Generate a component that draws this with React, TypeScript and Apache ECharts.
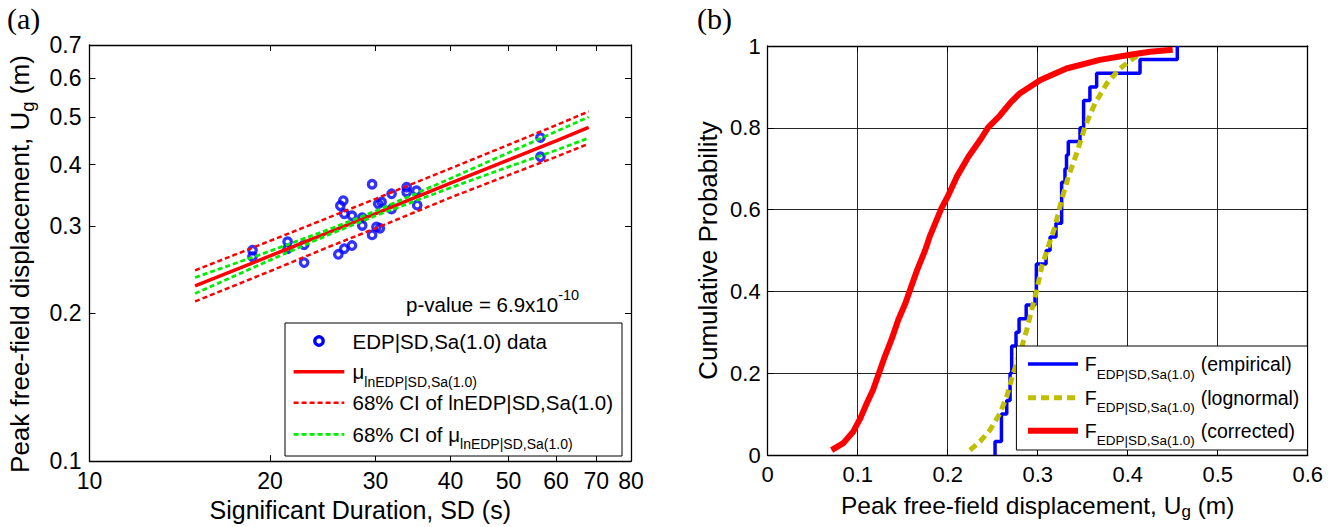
import React, { useEffect, useRef } from 'react';
import * as echarts from 'echarts';

// ---------- (a) regression plot ----------
const SD_TICKS = [10, 20, 30, 40, 50, 60, 70, 80];
const U_TICKS = [0.1, 0.2, 0.3, 0.4, 0.5, 0.6, 0.7];

const SD_DATA = [18.7, 18.7, 21.4, 21.4, 22.8, 22.8, 26.0, 26.6, 27.4, 26.2, 26.5, 26.6, 27.4, 28.5, 28.5, 29.6, 29.6, 30.1, 30.3, 30.7, 30.5, 31.9, 31.9, 33.8, 33.8, 35.1, 35.2, 56.5, 56.5];
const U_DATA = [0.268, 0.260, 0.279, 0.270, 0.275, 0.253, 0.263, 0.270, 0.274, 0.330, 0.338, 0.318, 0.315, 0.312, 0.301, 0.365, 0.288, 0.299, 0.333, 0.336, 0.297, 0.349, 0.325, 0.360, 0.352, 0.354, 0.331, 0.454, 0.415];

const FIT_SD = [15, 20, 25, 30, 40, 50, 60, 68];
const FIT_MU = [0.227, 0.261, 0.291, 0.318, 0.367, 0.409, 0.447, 0.476];
const CI_HI = [0.244, 0.280, 0.312, 0.341, 0.393, 0.439, 0.481, 0.513];
const CI_LO = [0.211, 0.243, 0.272, 0.297, 0.343, 0.381, 0.415, 0.441];
const CIM_HI = [0.236, 0.267, 0.295, 0.322, 0.375, 0.423, 0.467, 0.500];
const CIM_LO = [0.219, 0.256, 0.288, 0.315, 0.359, 0.396, 0.428, 0.453];

// ---------- (b) CDF plot ----------
const EMP_X = [0.2526, 0.2526, 0.2597, 0.2656, 0.2693, 0.2711, 0.2759, 0.2793, 0.2872, 0.2970, 0.2985, 0.3093, 0.3137, 0.3203, 0.3266, 0.3303, 0.3320, 0.3340, 0.3470, 0.3510, 0.3580, 0.3655, 0.4137, 0.4551];
const EMP_P = [0, 0.0333, 0.1, 0.1333, 0.2, 0.2667, 0.3, 0.3333, 0.3667, 0.4, 0.4667, 0.5, 0.5333, 0.5667, 0.6667, 0.7, 0.7333, 0.7667, 0.8, 0.8667, 0.9, 0.9333, 0.9667, 1.0];

const LOGN_X = [0.2248, 0.2359, 0.2470, 0.2581, 0.2656, 0.2729, 0.2803, 0.2878, 0.2933, 0.2989, 0.3044, 0.3118, 0.3192, 0.3266, 0.3340, 0.3433, 0.3526, 0.3637, 0.3767, 0.3914, 0.4063, 0.4108];
const LOGN_P = [0.012, 0.033, 0.061, 0.102, 0.143, 0.200, 0.249, 0.306, 0.355, 0.403, 0.460, 0.510, 0.558, 0.624, 0.680, 0.738, 0.803, 0.860, 0.908, 0.945, 0.970, 0.976];

const CORR_X = [0.071, 0.084, 0.095, 0.103, 0.110, 0.117, 0.123, 0.130, 0.138, 0.145, 0.153, 0.158, 0.166, 0.175, 0.180, 0.193, 0.200, 0.210, 0.223, 0.236, 0.245, 0.258, 0.270, 0.280, 0.303, 0.332, 0.369, 0.406, 0.425, 0.450];
const CORR_P = [0.012, 0.029, 0.057, 0.090, 0.126, 0.159, 0.196, 0.240, 0.285, 0.330, 0.371, 0.403, 0.452, 0.501, 0.534, 0.603, 0.632, 0.680, 0.729, 0.770, 0.801, 0.830, 0.862, 0.884, 0.917, 0.945, 0.966, 0.980, 0.986, 0.991];

const X2_TICK_LABELS = ['0', '0.1', '0.2', '0.3', '0.4', '0.5', '0.6'];
const Y2_TICK_LABELS = ['0', '0.2', '0.4', '0.6', '0.8', '1'];

const N_DATA = 'EDP|SD,Sa(1.0) data';
const N_MU = 'μ lnEDP|SD,Sa(1.0)';
const N_CI = '68% CI of lnEDP|SD,Sa(1.0)';
const N_CIM = '68% CI of μ lnEDP|SD,Sa(1.0)';
const N_EMP = 'F EDP|SD,Sa(1.0) (empirical)';
const N_LOGN = 'F EDP|SD,Sa(1.0) (lognormal)';
const N_CORR = 'F EDP|SD,Sa(1.0) (corrected)';

const LEGEND_FMT: Record<string, string> = {
  [N_DATA]: '{m|EDP|SD,Sa(1.0) data}',
  [N_MU]: '{m|μ}{s|lnEDP|SD,Sa(1.0)}',
  [N_CI]: '{m|68% CI of lnEDP|SD,Sa(1.0)}',
  [N_CIM]: '{m|68% CI of μ}{s|lnEDP|SD,Sa(1.0)}',
  [N_EMP]: '{m|F}{s|EDP|SD,Sa(1.0)}{p|(empirical)}',
  [N_LOGN]: '{m|F}{s|EDP|SD,Sa(1.0)}{p|(lognormal)}',
  [N_CORR]: '{m|F}{s|EDP|SD,Sa(1.0)}{p|(corrected)}',
};

const FONT = '"Liberation Sans", Arial, sans-serif';
const SERIF = '"Liberation Serif", "Times New Roman", serif';

const C_BLUE = '#0000ff';
const C_RED = '#ff0000';
const C_GREEN = '#00ee00';
const C_YEL = '#bfbf00';

const zip = (a: number[], b: number[]) => a.map((v, i) => [v, b[i]]);

function richStyle(fs: number, ss: number) {
  return {
    m: { fontSize: fs, lineHeight: 34, fontFamily: FONT, fill: '#000' },
    s: { fontSize: ss, lineHeight: 12, verticalAlign: 'bottom', fontFamily: FONT, fill: '#000' },
    p: { fontSize: fs, lineHeight: 34, fontFamily: FONT, fill: '#000', padding: [0, 0, 0, 6] },
  };
}

function legendEntry(name: string, x: number, y: number, fs: number, ss: number) {
  return {
    type: 'text', x, y, z: 101,
    style: { text: LEGEND_FMT[name], verticalAlign: 'middle', align: 'left', fill: '#000', fontFamily: FONT, fontSize: fs, rich: richStyle(fs, ss) },
  };
}

function legendLine(x1: number, x2: number, y: number, stroke: string, lineWidth: number, lineDash?: number[]) {
  return {
    type: 'line', z: 101,
    shape: { x1, y1: y, x2, y2: y },
    style: { stroke, lineWidth, lineDash: lineDash || null, fill: 'none' },
  };
}

function buildGraphics(): any[] {
  // legend (a)
  const ay = [341, 371.7, 402.7, 434.3];
  const ax1 = 293.6, ax2 = 344.3, atx = 352.5;
  // legend (b)
  const by = [364, 397.7, 430.7];
  const bx1 = 1028, bx2 = 1078, btx = 1084.8;
  return [
    { type: 'text', left: 7, top: 3, style: { text: '(a)', fontSize: 30, fontFamily: SERIF, fill: '#000' } },
    { type: 'text', left: 697, top: 3, style: { text: '(b)', fontSize: 30, fontFamily: SERIF, fill: '#000' } },
    {
      type: 'text', x: 406, y: 304, z: 100,
      style: {
        text: '{a|p-value = 6.9x10}{b|-10}', verticalAlign: 'middle', fill: '#000', fontFamily: FONT, fontSize: 20.5,
        rich: {
          a: { fontSize: 20.5, lineHeight: 34, fontFamily: FONT, fill: '#000' },
          b: { fontSize: 14.5, lineHeight: 12, verticalAlign: 'top', fontFamily: FONT, fill: '#000' },
        },
      },
    },
    // legend (a)
    { type: 'rect', z: 100, shape: { x: 285, y: 323, width: 337, height: 133 }, style: { fill: '#fff', stroke: '#000', lineWidth: 1 } },
    { type: 'circle', z: 101, shape: { cx: 319, cy: ay[0], r: 4.2 }, style: { fill: 'none', stroke: C_BLUE, lineWidth: 3.3 } },
    legendEntry(N_DATA, atx, ay[0], 20.5, 14),
    legendLine(ax1, ax2, ay[1], C_RED, 3.5),
    legendEntry(N_MU, atx, ay[1], 20.5, 14),
    legendLine(ax1, ax2, ay[2], C_RED, 2.5, [5, 3]),
    legendEntry(N_CI, atx, ay[2], 20.5, 14),
    legendLine(ax1, ax2, ay[3], C_GREEN, 2.8, [5, 3]),
    legendEntry(N_CIM, atx, ay[3], 20.5, 14),
    // legend (b)
    { type: 'rect', z: 100, shape: { x: 1016.4, y: 346, width: 291.1, height: 104 }, style: { fill: '#fff', stroke: '#000', lineWidth: 1 } },
    legendLine(bx1, bx2, by[0], C_BLUE, 3.5),
    legendEntry(N_EMP, btx, by[0], 19.5, 13.5),
    legendLine(bx1, bx2, by[1], C_YEL, 5, [8, 5]),
    legendEntry(N_LOGN, btx, by[1], 19.5, 13.5),
    legendLine(bx1, bx2, by[2], C_RED, 6),
    legendEntry(N_CORR, btx, by[2], 19.5, 13.5),
  ];
}

function buildOption(): any {
  const axLine = { show: true, onZero: false, lineStyle: { color: '#000', width: 1.3 } };
  const tick = { show: true, inside: true, length: 6, lineStyle: { color: '#000', width: 1 } };
  const noLabel = { show: false };
  const fmt1 = (v: number) => String(Math.round(v * 10) / 10);

  return {
    animation: false,
    backgroundColor: '#fff',
    grid: [
      { left: 89.5, top: 45, width: 541.5, height: 419 },
      { left: 767.7, top: 46, width: 540, height: 409 },
    ],
    xAxis: [
      {
        type: 'log', gridIndex: 0, position: 'bottom', min: 10, max: 80, logBase: 10,
        axisLine: axLine,
        axisTick: { ...tick, customValues: SD_TICKS },
        minorTick: { show: false }, splitLine: { show: false },
        axisLabel: { customValues: SD_TICKS, fontSize: 23, color: '#000', fontFamily: FONT, margin: 8, formatter: (v: number) => String(Math.round(v)) },
        name: 'Significant Duration, SD (s)', nameLocation: 'middle', nameGap: 32,
        nameTextStyle: { fontSize: 25, color: '#000', fontFamily: FONT },
      },
      {
        type: 'log', gridIndex: 0, position: 'top', min: 10, max: 80, logBase: 10,
        axisLine: axLine,
        axisTick: { ...tick, customValues: SD_TICKS },
        minorTick: { show: false }, splitLine: { show: false },
        axisLabel: noLabel,
      },
      {
        type: 'value', gridIndex: 1, position: 'bottom', min: 0, max: 0.6, interval: 0.1,
        axisLine: axLine, axisTick: tick,
        splitLine: { show: true, lineStyle: { color: '#262626', width: 1 } },
        axisLabel: { fontSize: 22, color: '#000', fontFamily: FONT, margin: 8, formatter: (v: number) => X2_TICK_LABELS[Math.round(v * 10)] },
        name: '{m|Peak free-field displacement, U}{s|g}{m| (m)}', nameLocation: 'middle', nameGap: 35,
        nameTextStyle: {
          color: '#000', fontFamily: FONT, fontSize: 24.5,
          rich: {
            m: { fontSize: 24.5, lineHeight: 30, fontFamily: FONT, color: '#000' },
            s: { fontSize: 17, lineHeight: 14, verticalAlign: 'bottom', fontFamily: FONT, color: '#000' },
          },
        },
      },
      {
        type: 'value', gridIndex: 1, position: 'top', min: 0, max: 0.6, interval: 0.1,
        axisLine: axLine, axisTick: tick, splitLine: { show: false }, axisLabel: noLabel,
      },
    ],
    yAxis: [
      {
        type: 'log', gridIndex: 0, position: 'left', min: 0.1, max: 0.7, logBase: 10,
        axisLine: axLine,
        axisTick: { ...tick, customValues: U_TICKS },
        minorTick: { show: false }, splitLine: { show: false },
        axisLabel: { customValues: U_TICKS, fontSize: 23, color: '#000', fontFamily: FONT, margin: 8, formatter: fmt1 },
        name: '{m|Peak free-field displacement, U}{s|g}{m| (m)}', nameLocation: 'middle', nameGap: 53,
        nameTextStyle: {
          color: '#000', fontFamily: FONT, fontSize: 26, padding: [0, 22, 0, 0],
          rich: {
            m: { fontSize: 26, lineHeight: 34, fontFamily: FONT, color: '#000' },
            s: { fontSize: 18.5, lineHeight: 16, verticalAlign: 'bottom', fontFamily: FONT, color: '#000' },
          },
        },
      },
      {
        type: 'log', gridIndex: 0, position: 'right', min: 0.1, max: 0.7, logBase: 10,
        axisLine: axLine,
        axisTick: { ...tick, customValues: U_TICKS },
        minorTick: { show: false }, splitLine: { show: false }, axisLabel: noLabel,
      },
      {
        type: 'value', gridIndex: 1, position: 'left', min: 0, max: 1, interval: 0.2,
        axisLine: axLine, axisTick: tick,
        splitLine: { show: true, lineStyle: { color: '#262626', width: 1 } },
        axisLabel: { fontSize: 22, color: '#000', fontFamily: FONT, margin: 7, formatter: (v: number) => Y2_TICK_LABELS[Math.round(v * 5)] },
        name: 'Cumulative Probability', nameLocation: 'middle', nameGap: 47,
        nameTextStyle: { fontSize: 26, color: '#000', fontFamily: FONT },
      },
      {
        type: 'value', gridIndex: 1, position: 'right', min: 0, max: 1, interval: 0.2,
        axisLine: axLine, axisTick: tick, splitLine: { show: false }, axisLabel: noLabel,
      },
    ],
    series: [
      {
        name: N_DATA, type: 'scatter', xAxisIndex: 0, yAxisIndex: 0,
        data: zip(SD_DATA, U_DATA), symbol: 'circle', symbolSize: 7.5,
        itemStyle: { color: 'rgba(255,255,255,0)', borderColor: C_BLUE, borderWidth: 3.3 },
      },
      {
        name: N_MU, type: 'line', xAxisIndex: 0, yAxisIndex: 0, data: zip(FIT_SD, FIT_MU),
        symbol: 'none', lineStyle: { color: C_RED, width: 3.5 }, itemStyle: { color: C_RED },
      },
      {
        name: N_CI, type: 'line', xAxisIndex: 0, yAxisIndex: 0, data: zip(FIT_SD, CI_HI),
        symbol: 'none', lineStyle: { color: C_RED, width: 2.5, type: [5, 3] }, itemStyle: { color: C_RED },
      },
      {
        name: N_CI, type: 'line', xAxisIndex: 0, yAxisIndex: 0, data: zip(FIT_SD, CI_LO),
        symbol: 'none', lineStyle: { color: C_RED, width: 2.5, type: [5, 3] }, itemStyle: { color: C_RED },
      },
      {
        name: N_CIM, type: 'line', xAxisIndex: 0, yAxisIndex: 0, data: zip(FIT_SD, CIM_HI),
        symbol: 'none', lineStyle: { color: C_GREEN, width: 2.8, type: [5, 3] }, itemStyle: { color: C_GREEN },
      },
      {
        name: N_CIM, type: 'line', xAxisIndex: 0, yAxisIndex: 0, data: zip(FIT_SD, CIM_LO),
        symbol: 'none', lineStyle: { color: C_GREEN, width: 2.8, type: [5, 3] }, itemStyle: { color: C_GREEN },
      },
      {
        name: N_EMP, type: 'line', xAxisIndex: 2, yAxisIndex: 2, data: zip(EMP_X, EMP_P), step: 'end',
        symbol: 'none', lineStyle: { color: C_BLUE, width: 3.5 }, itemStyle: { color: C_BLUE },
      },
      {
        name: N_LOGN, type: 'line', xAxisIndex: 2, yAxisIndex: 2, data: zip(LOGN_X, LOGN_P),
        symbol: 'none', lineStyle: { color: C_YEL, width: 5, type: [8, 5] }, itemStyle: { color: C_YEL },
      },
      {
        name: N_CORR, type: 'line', xAxisIndex: 2, yAxisIndex: 2, data: zip(CORR_X, CORR_P),
        symbol: 'none', lineStyle: { color: C_RED, width: 6 }, itemStyle: { color: C_RED },
      },
    ],
    graphic: buildGraphics(),
  };
}

export default function App() {
  const ref = useRef<HTMLDivElement>(null);
  useEffect(() => {
    if (!ref.current) return;
    const chart = echarts.init(ref.current, undefined, { renderer: 'svg' });
    chart.setOption(buildOption());
    return () => chart.dispose();
  }, []);
  return (
    <div
      ref={ref}
      style={{ position: 'fixed', left: 0, top: 0, width: 1343, height: 527, background: '#fff' }}
    />
  );
}
